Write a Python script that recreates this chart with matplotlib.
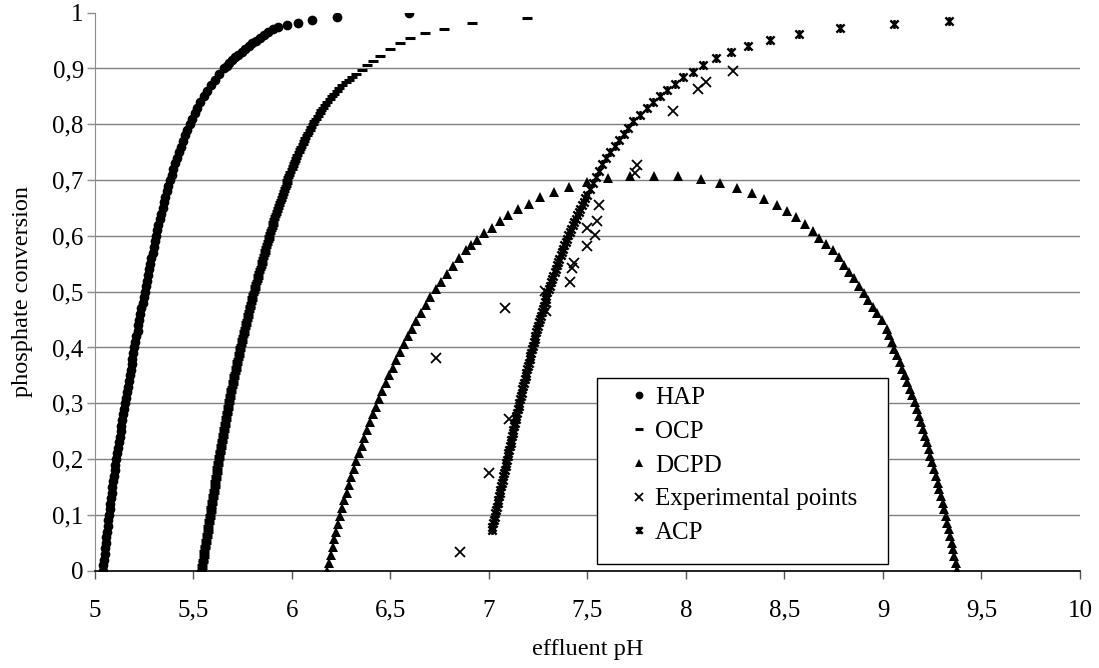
import matplotlib
matplotlib.use('Agg')
import matplotlib.pyplot as plt
from matplotlib.path import Path
from matplotlib.patches import Rectangle

plt.rcParams['font.family'] = ['Liberation Serif', 'DejaVu Serif']

# axis ticks and labels
xticks = [5, 5.5, 6, 6.5, 7, 7.5, 8, 8.5, 9, 9.5, 10]
xtick_labels = ['5', '5,5', '6', '6,5', '7', '7,5', '8', '8,5', '9', '9,5', '10']
yticks = [0, 0.1, 0.2, 0.3, 0.4, 0.5, 0.6, 0.7, 0.8, 0.9, 1]
ytick_labels = ['0', '0,1', '0,2', '0,3', '0,4', '0,5', '0,6', '0,7', '0,8', '0,9', '1']

# HAP
hap_ph = [5.040, 5.043, 5.046, 5.049, 5.052, 5.055, 5.058, 5.061, 5.064, 5.067,
          5.070, 5.074, 5.078, 5.081, 5.085, 5.089, 5.093, 5.097, 5.100, 5.104,
          5.108, 5.112, 5.117, 5.121, 5.126, 5.130, 5.134, 5.139, 5.143, 5.148,
          5.152, 5.157, 5.162, 5.166, 5.171, 5.176, 5.181, 5.186, 5.190, 5.195,
          5.200, 5.205, 5.210, 5.216, 5.221, 5.226, 5.231, 5.236, 5.242, 5.247,
          5.252, 5.258, 5.264, 5.269, 5.275, 5.281, 5.287, 5.293, 5.298, 5.304,
          5.310, 5.316, 5.322, 5.329, 5.336, 5.343, 5.350, 5.357, 5.365, 5.373,
          5.381, 5.389, 5.398, 5.407, 5.416, 5.426, 5.436, 5.446, 5.457, 5.468,
          5.480, 5.493, 5.506, 5.520, 5.535, 5.551, 5.569, 5.588, 5.609, 5.631,
          5.655, 5.668, 5.682, 5.697, 5.712, 5.728, 5.745, 5.762, 5.780, 5.798,
          5.817, 5.837, 5.858, 5.880, 5.905, 5.930,
          5.976, 6.029, 6.103, 6.227, 6.594]
hap_conv = [0.00, 0.01, 0.02, 0.03, 0.04, 0.05, 0.06, 0.07, 0.08, 0.09,
            0.10, 0.11, 0.12, 0.13, 0.14, 0.15, 0.16, 0.17, 0.18, 0.19,
            0.20, 0.21, 0.22, 0.23, 0.24, 0.25, 0.26, 0.27, 0.28, 0.29,
            0.30, 0.31, 0.32, 0.33, 0.34, 0.35, 0.36, 0.37, 0.38, 0.39,
            0.40, 0.41, 0.42, 0.43, 0.44, 0.45, 0.46, 0.47, 0.48, 0.49,
            0.50, 0.51, 0.52, 0.53, 0.54, 0.55, 0.56, 0.57, 0.58, 0.59,
            0.60, 0.61, 0.62, 0.63, 0.64, 0.65, 0.66, 0.67, 0.68, 0.69,
            0.70, 0.71, 0.72, 0.73, 0.74, 0.75, 0.76, 0.77, 0.78, 0.79,
            0.80, 0.81, 0.82, 0.83, 0.84, 0.85, 0.86, 0.87, 0.88, 0.89,
            0.900, 0.905, 0.910, 0.915, 0.920, 0.925, 0.930, 0.935, 0.940, 0.945,
            0.950, 0.955, 0.960, 0.965, 0.970, 0.974,
            0.978, 0.982, 0.987, 0.993, 0.999]

# OCP
ocp_ph = [5.540, 5.542, 5.545, 5.547, 5.549, 5.551, 5.554, 5.556, 5.558, 5.560,
          5.563, 5.565, 5.567, 5.569, 5.572, 5.574, 5.576, 5.578, 5.581, 5.583,
          5.585, 5.587, 5.589, 5.591, 5.594, 5.596, 5.598, 5.600, 5.602, 5.604,
          5.607, 5.609, 5.611, 5.613, 5.615, 5.617, 5.619, 5.622, 5.624, 5.626,
          5.628, 5.630, 5.633, 5.635, 5.638, 5.640, 5.643, 5.645, 5.648, 5.650,
          5.653, 5.655, 5.658, 5.660, 5.663, 5.665, 5.668, 5.670, 5.673, 5.675,
          5.678, 5.681, 5.684, 5.687, 5.690, 5.693, 5.696, 5.699, 5.702, 5.705,
          5.708, 5.711, 5.714, 5.717, 5.720, 5.723, 5.726, 5.729, 5.732, 5.735,
          5.738, 5.741, 5.745, 5.748, 5.752, 5.755, 5.758, 5.762, 5.765, 5.769,
          5.772, 5.775, 5.779, 5.782, 5.786, 5.789, 5.792, 5.796, 5.799, 5.803,
          5.806, 5.810, 5.814, 5.818, 5.822, 5.826, 5.830, 5.834, 5.838, 5.842,
          5.846, 5.849, 5.853, 5.857, 5.861, 5.865, 5.869, 5.873, 5.877, 5.881,
          5.885, 5.889, 5.893, 5.897, 5.902, 5.906, 5.910, 5.915, 5.919, 5.924,
          5.929, 5.933, 5.938, 5.943, 5.948, 5.953, 5.958, 5.964, 5.969, 5.973,
          5.976, 5.981, 5.987, 5.992, 5.998, 6.004, 6.010, 6.016, 6.022, 6.028,
          6.034, 6.041, 6.047, 6.054, 6.061, 6.068, 6.075, 6.082, 6.090, 6.097,
          6.105, 6.113, 6.122, 6.131, 6.140, 6.149, 6.159, 6.169, 6.180, 6.191,
          6.202, 6.214, 6.227, 6.241, 6.256, 6.272, 6.288,
          6.305, 6.325, 6.354, 6.383, 6.413, 6.447, 6.497, 6.548, 6.599, 6.675,
          6.773, 6.912, 7.191]
ocp_conv = [0.000, 0.005, 0.010, 0.015, 0.020, 0.025, 0.030, 0.035, 0.040, 0.045,
            0.050, 0.055, 0.060, 0.065, 0.070, 0.075, 0.080, 0.085, 0.090, 0.095,
            0.100, 0.105, 0.110, 0.115, 0.120, 0.125, 0.130, 0.135, 0.140, 0.145,
            0.150, 0.155, 0.160, 0.165, 0.170, 0.175, 0.180, 0.185, 0.190, 0.195,
            0.200, 0.205, 0.210, 0.215, 0.220, 0.225, 0.230, 0.235, 0.240, 0.245,
            0.250, 0.255, 0.260, 0.265, 0.270, 0.275, 0.280, 0.285, 0.290, 0.295,
            0.300, 0.305, 0.310, 0.315, 0.320, 0.325, 0.330, 0.335, 0.340, 0.345,
            0.350, 0.355, 0.360, 0.365, 0.370, 0.375, 0.380, 0.385, 0.390, 0.395,
            0.400, 0.405, 0.410, 0.415, 0.420, 0.425, 0.430, 0.435, 0.440, 0.445,
            0.450, 0.455, 0.460, 0.465, 0.470, 0.475, 0.480, 0.485, 0.490, 0.495,
            0.500, 0.505, 0.510, 0.515, 0.520, 0.525, 0.530, 0.535, 0.540, 0.545,
            0.550, 0.555, 0.560, 0.565, 0.570, 0.575, 0.580, 0.585, 0.590, 0.595,
            0.600, 0.605, 0.610, 0.615, 0.620, 0.625, 0.630, 0.635, 0.640, 0.645,
            0.650, 0.655, 0.660, 0.665, 0.670, 0.675, 0.680, 0.685, 0.690, 0.695,
            0.700, 0.705, 0.710, 0.715, 0.720, 0.725, 0.730, 0.735, 0.740, 0.745,
            0.750, 0.755, 0.760, 0.765, 0.770, 0.775, 0.780, 0.785, 0.790, 0.795,
            0.800, 0.805, 0.810, 0.815, 0.820, 0.825, 0.830, 0.835, 0.840, 0.845,
            0.850, 0.855, 0.860, 0.865, 0.870, 0.875, 0.880,
            0.885, 0.891, 0.898, 0.906, 0.913, 0.922, 0.935, 0.945, 0.954, 0.963,
            0.971, 0.981, 0.990]

# DCPD
dcpd_ph = [6.179, 6.188, 6.197, 6.206, 6.215, 6.224, 6.234, 6.243, 6.254, 6.265,
           6.277, 6.289, 6.301, 6.314, 6.327, 6.340, 6.354, 6.368, 6.382, 6.397,
           6.412, 6.427, 6.442, 6.459, 6.476, 6.493, 6.511, 6.529, 6.548, 6.568,
           6.588, 6.609, 6.631, 6.654, 6.678, 6.703, 6.729, 6.757, 6.786, 6.816,
           6.848, 6.883, 6.910,
           6.937, 6.975, 7.013, 7.056, 7.098, 7.149, 7.203, 7.259, 7.332, 7.406,
           7.496, 7.602, 7.716, 7.836, 7.958, 8.074, 8.173, 8.261, 8.333, 8.398,
           8.460, 8.511, 8.558, 8.604, 8.643, 8.677, 8.711, 8.745, 8.775, 8.802,
           8.829, 8.853, 8.880, 8.904, 8.926, 8.948, 8.971, 8.993, 9.019,
           9.031, 9.045, 9.058, 9.072, 9.085, 9.098, 9.111, 9.123, 9.136, 9.148,
           9.160, 9.171, 9.182, 9.192, 9.202, 9.212, 9.222, 9.232, 9.241, 9.251,
           9.260, 9.269, 9.277, 9.286, 9.294, 9.303, 9.311, 9.319, 9.326, 9.334,
           9.341, 9.348, 9.355, 9.362, 9.369, 9.376]
dcpd_conv = [0.000, 0.014, 0.028, 0.042, 0.056, 0.070, 0.084, 0.098, 0.112, 0.126,
             0.140, 0.154, 0.168, 0.182, 0.196, 0.210, 0.224, 0.238, 0.252, 0.266,
             0.280, 0.294, 0.308, 0.322, 0.336, 0.350, 0.364, 0.378, 0.392, 0.406,
             0.420, 0.434, 0.448, 0.462, 0.476, 0.490, 0.504, 0.518, 0.532, 0.546,
             0.560, 0.574, 0.584,
             0.593, 0.605, 0.615, 0.626, 0.638, 0.648, 0.658, 0.670, 0.679, 0.688,
             0.696, 0.703, 0.707, 0.708, 0.707, 0.702, 0.694, 0.685, 0.677, 0.666,
             0.655, 0.645, 0.633, 0.621, 0.609, 0.597, 0.586, 0.574, 0.562, 0.548,
             0.536, 0.524, 0.510, 0.498, 0.485, 0.473, 0.461, 0.449, 0.434,
             0.422, 0.410, 0.398, 0.386, 0.374, 0.362, 0.350, 0.338, 0.326, 0.314,
             0.302, 0.290, 0.278, 0.266, 0.254, 0.242, 0.230, 0.218, 0.206, 0.194,
             0.182, 0.170, 0.158, 0.146, 0.134, 0.122, 0.110, 0.098, 0.086, 0.074,
             0.062, 0.050, 0.038, 0.026, 0.014, 0.002]

# experimental points
exp_ph = [6.853, 7.002, 7.100, 6.731, 7.080, 7.285, 7.290, 7.411, 7.420, 7.431,
          7.499, 7.499, 7.538, 7.550, 7.560, 7.741, 7.750, 7.934, 8.063, 8.102,
          8.240]
exp_conv = [0.034, 0.175, 0.272, 0.382, 0.471, 0.502, 0.465, 0.518, 0.542, 0.551,
            0.582, 0.615, 0.602, 0.627, 0.655, 0.712, 0.727, 0.823, 0.863, 0.876,
            0.896]

# ACP
acp_ph = [7.013, 7.017, 7.021, 7.025, 7.029, 7.033, 7.036, 7.040, 7.044, 7.047,
          7.051, 7.055, 7.058, 7.062, 7.066, 7.069, 7.073, 7.077, 7.080, 7.084,
          7.088, 7.091, 7.095, 7.099, 7.102, 7.106, 7.110, 7.113, 7.117, 7.121,
          7.124, 7.128, 7.132, 7.135, 7.139, 7.143, 7.146, 7.150, 7.154, 7.158,
          7.162, 7.166, 7.170, 7.174, 7.178, 7.182, 7.186, 7.190, 7.194, 7.198,
          7.202, 7.206, 7.210, 7.214, 7.218, 7.222, 7.227, 7.232, 7.236, 7.241,
          7.246, 7.250, 7.255, 7.260, 7.264, 7.269, 7.274, 7.278, 7.283, 7.288,
          7.292, 7.297, 7.303, 7.309, 7.315, 7.321, 7.327, 7.333, 7.340, 7.346,
          7.352, 7.358, 7.364, 7.370, 7.376, 7.382, 7.389, 7.395, 7.401, 7.409,
          7.417, 7.425, 7.433, 7.441, 7.449, 7.456, 7.464, 7.472, 7.480, 7.488,
          7.496, 7.511, 7.526, 7.541, 7.557, 7.575, 7.595, 7.616, 7.638, 7.660,
          7.684, 7.708, 7.733, 7.765, 7.800, 7.834, 7.868, 7.905, 7.944, 7.983,
          8.034, 8.088, 8.151, 8.227, 8.316, 8.426, 8.574, 8.782, 9.058, 9.337]
acp_conv = [0.073, 0.079, 0.085, 0.091, 0.097, 0.103, 0.109, 0.115, 0.121, 0.127,
            0.133, 0.139, 0.145, 0.151, 0.157, 0.163, 0.169, 0.175, 0.181, 0.187,
            0.193, 0.199, 0.205, 0.211, 0.217, 0.223, 0.229, 0.235, 0.241, 0.247,
            0.253, 0.259, 0.265, 0.271, 0.277, 0.283, 0.289, 0.295, 0.301, 0.307,
            0.313, 0.319, 0.325, 0.331, 0.337, 0.343, 0.349, 0.355, 0.361, 0.367,
            0.373, 0.379, 0.385, 0.391, 0.397, 0.403, 0.409, 0.415, 0.421, 0.427,
            0.433, 0.439, 0.445, 0.451, 0.457, 0.463, 0.469, 0.475, 0.481, 0.487,
            0.493, 0.499, 0.505, 0.511, 0.517, 0.523, 0.529, 0.535, 0.541, 0.547,
            0.553, 0.559, 0.565, 0.571, 0.577, 0.583, 0.589, 0.595, 0.601, 0.607,
            0.613, 0.619, 0.625, 0.631, 0.637, 0.643, 0.649, 0.655, 0.661, 0.667,
            0.673, 0.684, 0.695, 0.706, 0.717, 0.728, 0.739, 0.750, 0.761, 0.772,
            0.783, 0.794, 0.805, 0.817, 0.829, 0.840, 0.851, 0.862, 0.873, 0.884,
            0.894, 0.906, 0.918, 0.929, 0.940, 0.951, 0.962, 0.972, 0.980, 0.985]

# star marker: an x with a vertical bar through it
star = Path([(-1, -1), (1, 1), (-1, 1), (1, -1), (0, -1.1), (0, 1.1)],
            [Path.MOVETO, Path.LINETO, Path.MOVETO, Path.LINETO, Path.MOVETO, Path.LINETO])

fig = plt.figure(figsize=(10.99, 6.68), dpi=100)
ax = fig.add_axes([0.0864, 0.1457, 0.8963, 0.8353])

ax.plot(hap_ph, hap_conv, 'o', color='black', ms=7, mew=0, label='HAP', zorder=3)
ax.plot(ocp_ph, ocp_conv, '_', color='black', ms=7.5, mew=2.2, label='OCP', zorder=3)
ax.plot(dcpd_ph, dcpd_conv, '^', color='black', ms=7.5, mew=0, label='DCPD', zorder=3)
ax.plot(exp_ph, exp_conv, 'x', color='black', ms=7, mew=1.3, label='Experimental points', zorder=3)
ax.plot(acp_ph, acp_conv, marker=star, ls='none', color='black', ms=6.5, mew=1.7, label='ACP', zorder=3)

ax.set_xlim(5, 10)
ax.set_ylim(0, 1)
ax.set_xticks(xticks)
ax.set_xticklabels(xtick_labels)
ax.set_yticks(yticks)
ax.set_yticklabels(ytick_labels)

# horizontal gridlines only, none at the top
ax.grid(axis='y', color='#808080', lw=1.0)
ax.yaxis.get_gridlines()[-1].set_visible(False)
ax.set_axisbelow(True)

for s in ['top', 'right']:
    ax.spines[s].set_visible(False)
ax.spines['left'].set_color('#8c8c8c')
ax.spines['bottom'].set_color('black')
ax.spines['bottom'].set_linewidth(1.2)
ax.spines['bottom'].set_zorder(4)

ax.tick_params(axis='x', direction='out', length=6, width=1, color='#555555',
               labelsize=18, pad=15)
ax.tick_params(axis='y', direction='out', length=6, width=1, color='#8c8c8c',
               labelsize=18, pad=2)

ax.set_xlabel('effluent pH', fontsize=17.5)
ax.xaxis.set_label_coords(0.5, -0.123)
ax.set_ylabel('phosphate conversion', fontsize=17.5)
ax.yaxis.set_label_coords(-0.063, 0.5)

# legend box
ax.add_patch(Rectangle((0.5096, 0.012), 0.2954, 0.333, transform=ax.transAxes,
                       facecolor='white', edgecolor='black', lw=1.0, zorder=5))
leg = ax.legend(loc='upper left', bbox_to_anchor=(0.542, 0.33), frameon=False,
                fontsize=18, handlelength=0.8, handletextpad=0.25,
                borderpad=0, borderaxespad=0, labelspacing=0.45, markerscale=0.8)
leg.set_zorder(6)

fig.savefig('out.png', dpi=100)
